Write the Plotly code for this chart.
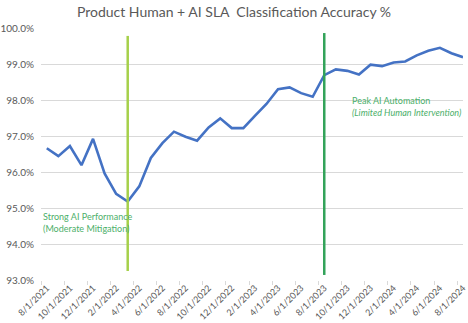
import plotly.graph_objects as go

# Monthly reporting periods
months = [
    "8/1/2021", "9/1/2021", "10/1/2021", "11/1/2021", "12/1/2021",
    "1/1/2022", "2/1/2022", "3/1/2022", "4/1/2022", "5/1/2022",
    "6/1/2022", "7/1/2022", "8/1/2022", "9/1/2022", "10/1/2022",
    "11/1/2022", "12/1/2022", "1/1/2023", "2/1/2023", "3/1/2023",
    "4/1/2023", "5/1/2023", "6/1/2023", "7/1/2023", "8/1/2023",
    "9/1/2023", "10/1/2023", "11/1/2023", "12/1/2023", "1/1/2024",
    "2/1/2024", "3/1/2024", "4/1/2024", "5/1/2024", "6/1/2024",
    "7/1/2024", "8/1/2024",
]

# Classification accuracy (%)
accuracy = [
    96.66, 96.44, 96.72, 96.19, 96.92,
    95.96, 95.39, 95.18, 95.60, 96.39,
    96.80, 97.12, 96.98, 96.87, 97.24,
    97.49, 97.22, 97.22, 97.56, 97.89,
    98.30, 98.35, 98.19, 98.09, 98.69,
    98.85, 98.81, 98.71, 98.98, 98.94,
    99.04, 99.07, 99.24, 99.37, 99.45,
    99.30, 99.19,
]

# Milestone markers
milestone_months = ["3/1/2022", "8/1/2023"]
milestone_colors = ["#A6D04A", "#33A35A"]
milestone_y0 = [93.25, 93.14]
milestone_y1 = [99.78, 99.86]

y_ticks = [93, 94, 95, 96, 97, 98, 99, 100]
y_tick_labels = ["93.0%", "94.0%", "95.0%", "96.0%", "97.0%", "98.0%", "99.0%", "100.0%"]

FONT = "Lato"
GRAY = "#595959"
GRID = "#D9D9D9"
NOTE_GREEN = "#4CAF6A"

fig = go.Figure()

fig.add_trace(go.Scatter(
    x=months, y=accuracy, mode="lines",
    line=dict(color="#4472C4", width=2.6),
    hoverinfo="x+y", showlegend=False,
))

for m, c, y0, y1 in zip(milestone_months, milestone_colors, milestone_y0, milestone_y1):
    fig.add_shape(type="line", xref="x", yref="y",
                  x0=m, x1=m, y0=y0, y1=y1,
                  line=dict(color=c, width=2.5), layer="above")

fig.add_annotation(
    x=-0.5, y=94.6, xref="x", yref="y", xanchor="left", yanchor="middle",
    text="Strong AI Performance<br>(Moderate Mitigation)",
    showarrow=False, align="left",
    font=dict(family=FONT, size=9, color=NOTE_GREEN),
)
fig.add_annotation(
    x=26.24, y=97.83, xref="x", yref="y", xanchor="left", yanchor="middle",
    text="Peak AI Automation<br><i>(Limited Human Intervention)</i>",
    showarrow=False, align="left",
    font=dict(family=FONT, size=9, color=NOTE_GREEN),
)

fig.update_layout(
    width=468, height=323,
    margin=dict(l=38, r=0, t=28, b=43),
    paper_bgcolor="white", plot_bgcolor="white",
    title=dict(
        text="Product Human + AI SLA\u00a0 Classification Accuracy %",
        x=0.5, xanchor="center", y=1 - 12 / 323, yanchor="middle",
        font=dict(family=FONT, size=14, color=GRAY),
    ),
    font=dict(family=FONT, color=GRAY),
)

fig.update_xaxes(
    type="category", range=[-0.5, 36.0],
    tickmode="linear", tick0=0, dtick=2,
    tickson="boundaries", ticks="outside", ticklen=4, tickcolor=GRID,
    tickangle=-45, tickfont=dict(family=FONT, size=9, color=GRAY),
    showgrid=False, showline=False, zeroline=False,
)

fig.update_yaxes(
    range=[93, 100], tickmode="array",
    tickvals=y_ticks, ticktext=y_tick_labels,
    tickfont=dict(family=FONT, size=10, color=GRAY),
    showgrid=True, gridcolor=GRID, gridwidth=1,
    zeroline=False, showline=False, ticklabelstandoff=6,
)

fig.write_html("out.html")
